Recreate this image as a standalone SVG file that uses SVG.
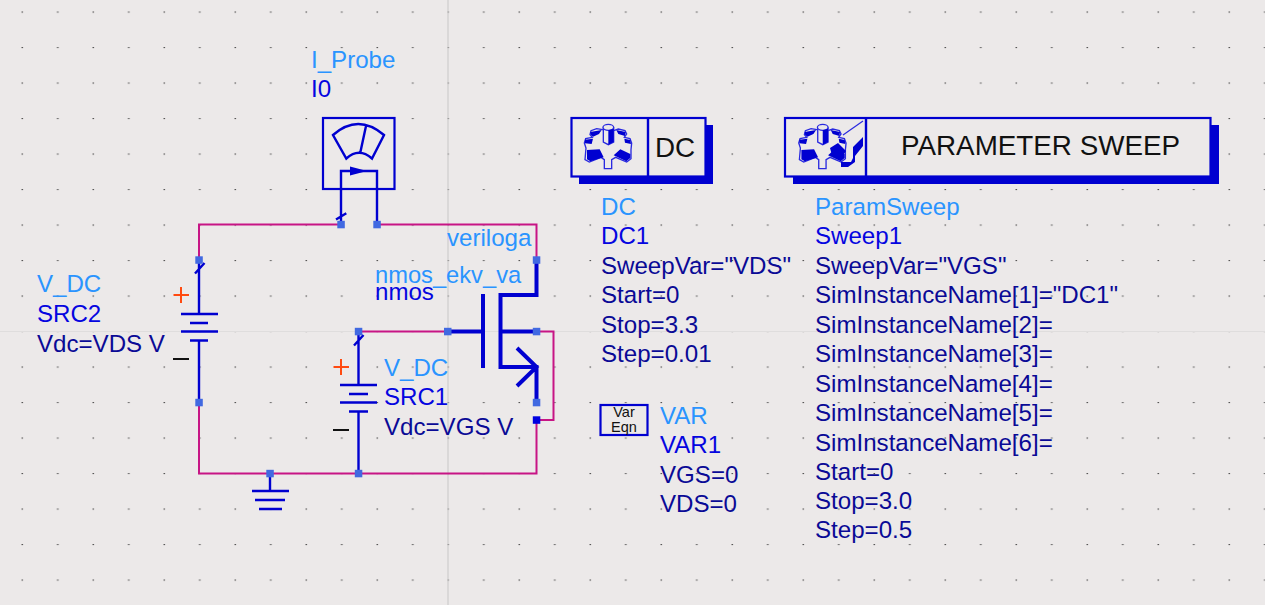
<svg xmlns="http://www.w3.org/2000/svg" xmlns:xlink="http://www.w3.org/1999/xlink" width="1265" height="605" viewBox="0 0 1265 605">
<style>
text{font-family:"Liberation Sans",Arial,sans-serif;font-size:24.1px}
.l{fill:#2a94ff}.b{fill:#0505e0}.d{fill:#0a0a96}.k{fill:#111}
.w{fill:none;stroke:#c71585;stroke-width:2}
.s{fill:none;stroke:#0000d0;stroke-width:2.4}
.m{fill:none;stroke:#0000d0;stroke-width:4}
.p{fill:#4169e1}
.box{fill:#ece9e9;stroke:#0000d0;stroke-width:2.2}
.sh{fill:#0000d0}
.g{fill:#ece9e9;stroke:#2a2ae0;stroke-width:4}
.gd{fill:#0000d0}
.big{font-size:27.8px}
.sm{font-size:14.5px}
</style>
<defs>
<pattern id="grid" width="35.5" height="35.5" patternUnits="userSpaceOnUse" x="22" y="11.5">
<rect x="-.5" y="-.5" width="1.6" height="1.6" fill="#555"/>
<rect x="35" y="-.5" width="1" height="1.6" fill="#555"/>
</pattern>
<g id="gear">
<path class="g" d="M83 35L65 32 48 38 45 50 52 58 32 62 28 75 33 90 30 125 43 132 78 118 88 125 88 152 110 152 110 125 122 118 155 132 168 122 168 95 170 75 165 62 148 58 155 48 150 38 130 33 116 38Z"/>
<path class="gd" d="M46 42L80 36 72 48 54 56 47 50ZM30 65L54 62 50 78 30 76ZM36 96L74 94 86 118 46 130 36 124ZM116 112L136 94 166 108 166 120 154 130ZM124 36L152 42 150 54 130 48ZM148 62L166 66 168 78 150 74Z"/>
<path class="g" d="M85 28V72L100 80 116 72V28"/>
<ellipse class="g" cx="100" cy="28" rx="16" ry="9"/>
<path class="gd" d="M100 37L116 32V72L100 80Z"/>
</g>
</defs>
<rect width="1265" height="605" fill="#ece9e9"/>
<rect width="1265" height="605" fill="url(#grid)"/>
<path d="M448 0V605" fill="none" stroke="#cfcdcd" stroke-width="1.2"/>
<path d="M0 331.500H1265" fill="none" stroke="#dfdddd" stroke-width="1.2"/>

<g id="connectors">
<path class="w" d="M341 224.500H199V260M377 224.500H536.500V260M199 402.500V473.500H536.500V420M358.500 331.500H448M536.500 331.500H553.500V420H536.500"/>
</g>

<g id="I0">
<rect class="box" x="323" y="118" width="71.500" height="71"/>
<path class="s" d="M333 135Q358 113 384 135L372 158.500Q359 147 346.300 158.500ZM366 126L360.300 152.500M341 224.500V171H377V224.500M336 219.500L346.300 213.300"/>
<path class="sh" d="M350 166.500L367 171 350 175.500Z"/>
<rect class="p" x="337.300" y="220.800" width="7.500" height="7.500"/><rect class="p" x="373.300" y="220.800" width="7.500" height="7.500"/>
<text class="l" x="311" y="68">I_Probe</text>
<text class="b" x="311" y="97">I0</text>
</g>

<g id="SRC2">
<path class="s" d="M199 260V314M181 314H218M190 323H208M181 331.500H218M190 340.500H208M199 340.500V402.500M195 273.500L204.500 263"/>
<path fill="none" stroke="#ff4a10" stroke-width="2" d="M173.500 295H189M181 287V303"/>
<path fill="none" stroke="#111" stroke-width="2" d="M173 359H189"/>
<rect class="p" x="195.300" y="256.300" width="7.500" height="7.500"/><rect class="p" x="195.300" y="398.800" width="7.500" height="7.500"/>
<text class="l" x="37" y="292">V_DC</text>
<text class="b" x="37" y="322">SRC2</text>
<text class="d" x="37" y="352">Vdc=VDS V</text>
</g>

<g id="SRC1">
<path class="s" d="M358.500 331.500V385M340 385H377M349 394H368M340 402.500H377M349 411.500H368M358.500 411.500V473.500M354 345.500L363.500 335"/>
<path fill="none" stroke="#ff4a10" stroke-width="2" d="M333.500 367H349M341 359V375"/>
<path fill="none" stroke="#111" stroke-width="2" d="M333 430H349"/>
<rect class="p" x="354.800" y="327.800" width="7.500" height="7.500"/><rect class="p" x="354.800" y="469.800" width="7.500" height="7.500"/>
<text class="l" x="384" y="376">V_DC</text>
<text class="b" x="384" y="405">SRC1</text>
<text class="d" x="384" y="435">Vdc=VGS V</text>
</g>

<g id="GND">
<path class="s" d="M270 473.500V491M252 491H289M255 500H285M259 509H282"/>
<rect class="p" x="266.300" y="469.800" width="7.500" height="7.500"/>
</g>

<g id="nmos">
<path class="m" d="M448 331.500H483M483 294V368M536.500 260V295H500.500V367H536.500V402.500M500.500 331.500H536.500M517 348L536.500 367 517 386"/>
<rect class="p" x="444" y="327.800" width="7.500" height="7.500"/>
<rect class="p" x="532.800" y="256.300" width="7.500" height="7.500"/>
<rect class="p" x="532.800" y="327.800" width="7.500" height="7.500"/>
<rect class="p" x="532.800" y="398.800" width="7.500" height="7.500"/>
<rect x="532.800" y="416.300" width="7.500" height="7.500" fill="#0000e0"/>
<text class="l" x="447" y="246">veriloga</text>
<text class="l" x="375" y="283" style="font-size:23.7px">nmos_ekv_va</text>
<text class="b" x="375" y="300">nmos</text>
</g>

<g id="DC1">
<path class="sh" d="M579 125H713V184H579Z"/>
<rect class="box" x="571.500" y="118" width="134" height="58.500"/>
<path class="s" d="M648 118V176"/>
<use href="#gear" xlink:href="#gear" transform="translate(575 118) scale(.3333)"/>
<text class="k big" x="655" y="157">DC</text>
<text class="l" x="601" y="215">DC</text>
<text class="b" x="601" y="244">DC1</text>
<text class="d" x="601" y="274">SweepVar="VDS"</text>
<text class="d" x="601" y="303">Start=0</text>
<text class="d" x="601" y="333">Stop=3.3</text>
<text class="d" x="601" y="362">Step=0.01</text>
</g>

<g id="Sweep1">
<path class="sh" d="M793 125H1219V184H793Z"/>
<rect class="box" x="785" y="118" width="425.500" height="58.500"/>
<path class="s" d="M866 118V176"/>
<use href="#gear" xlink:href="#gear" transform="translate(789.400 118) scale(.3333)"/>
<path fill="none" stroke="#2a2ae0" stroke-width="1.2" d="M843 135L863 121"/>
<path class="sh" d="M830 148L838 143 846 151 840 160 832 155ZM847 162H851L853 158 853 147 863 137V146L855 156 855 162 848 167H841V162Z"/>
<text class="k big" x="901" y="155">PARAMETER SWEEP</text>
<text class="l" x="815" y="215">ParamSweep</text>
<text class="b" x="815" y="244">Sweep1</text>
<text class="d" x="815" y="274">SweepVar="VGS"</text>
<text class="d" x="815" y="303">SimInstanceName[1]="DC1"</text>
<text class="d" x="815" y="333">SimInstanceName[2]=</text>
<text class="d" x="815" y="362">SimInstanceName[3]=</text>
<text class="d" x="815" y="392">SimInstanceName[4]=</text>
<text class="d" x="815" y="421">SimInstanceName[5]=</text>
<text class="d" x="815" y="451">SimInstanceName[6]=</text>
<text class="d" x="815" y="480">Start=0</text>
<text class="d" x="815" y="509">Stop=3.0</text>
<text class="d" x="815" y="538">Step=0.5</text>
</g>

<g id="VAR1">
<rect class="box" x="600.500" y="405" width="47" height="30"/>
<text class="k sm" x="624" y="417" text-anchor="middle">Var</text>
<text class="k sm" x="624" y="432" text-anchor="middle">Eqn</text>
<text class="l" x="660" y="424">VAR</text>
<text class="b" x="660" y="453">VAR1</text>
<text class="d" x="660" y="483">VGS=0</text>
<text class="d" x="660" y="512">VDS=0</text>
</g>
</svg>
